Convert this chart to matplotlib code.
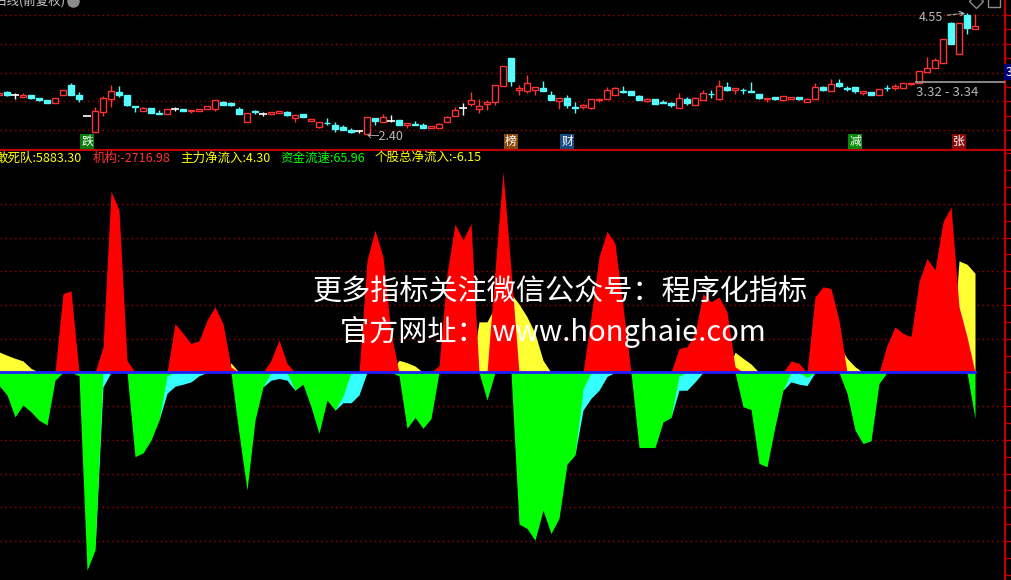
import numpy as np
import matplotlib
matplotlib.use('Agg')
import matplotlib.pyplot as plt
from matplotlib.patches import Rectangle
from matplotlib.lines import Line2D
import matplotlib.transforms as mtransforms

plt.rcParams['font.family'] = ['Noto Sans CJK SC', 'DejaVu Sans']

# ---- daily candles (qfq) ----
opens = [3.08, 3.14, 3.09, 3.05, 3.09, 3.03, 3.00, 2.95, 3.08, 3.27,
         3.09, 2.71, 2.43, 2.79, 3.02, 3.14, 3.08, 2.89, 2.81, 2.86,
         2.77, 2.74, 2.84, 2.83, 2.80, 2.80, 2.83, 2.83, 2.96, 2.94,
         2.84, 2.60, 2.80, 2.75, 2.75, 2.76, 2.79, 2.68, 2.74, 2.63,
         2.52, 2.59, 2.55, 2.52, 2.47, 2.45, 2.40, 2.68, 2.61, 2.63,
         2.65, 2.55, 2.57, 2.55, 2.49, 2.50, 2.61, 2.72, 2.85, 2.93,
         2.83, 2.93, 2.96, 3.25, 3.74, 3.18, 3.15, 3.18, 3.21, 3.09,
         2.98, 3.03, 2.87, 2.87, 2.86, 2.99, 3.01, 3.09, 3.15, 3.15,
         3.07, 2.98, 3.02, 2.96, 2.94, 2.86, 3.01, 2.90, 3.00, 3.11,
         3.02, 3.23, 3.17, 3.18, 3.15, 3.11, 3.02, 3.05, 2.99, 3.02,
         3.06, 2.96, 3.01, 3.23, 3.15, 3.30, 3.21, 3.23, 3.13, 3.14,
         3.08, 3.22, 3.22, 3.22, 3.29, 3.31, 3.49, 3.56, 3.65, 4.37,
         3.81, 4.51, 4.26]
highs = [3.12, 3.16, 3.13, 3.12, 3.09, 3.03, 3.00, 3.03, 3.18, 3.30,
         3.14, 2.71, 2.87, 3.07, 3.27, 3.25, 3.08, 2.89, 2.87, 2.86,
         2.82, 2.83, 2.87, 2.83, 2.82, 2.84, 2.89, 2.99, 2.98, 2.97,
         2.87, 2.76, 2.82, 2.79, 2.78, 2.80, 2.81, 2.73, 2.75, 2.66,
         2.61, 2.68, 2.61, 2.55, 2.49, 2.47, 2.69, 2.68, 2.75, 2.73,
         2.65, 2.59, 2.62, 2.58, 2.53, 2.59, 2.72, 2.88, 2.95, 3.14,
         3.01, 3.00, 3.27, 3.61, 3.74, 3.27, 3.44, 3.23, 3.33, 3.15,
         3.03, 3.09, 2.96, 2.93, 3.01, 3.04, 3.23, 3.23, 3.25, 3.15,
         3.09, 3.04, 3.02, 2.99, 2.96, 3.12, 3.05, 3.05, 3.17, 3.17,
         3.36, 3.32, 3.21, 3.21, 3.32, 3.11, 3.03, 3.05, 3.07, 3.06,
         3.06, 3.04, 3.30, 3.25, 3.37, 3.37, 3.25, 3.23, 3.16, 3.14,
         3.19, 3.26, 3.28, 3.30, 3.30, 3.51, 3.76, 3.75, 4.08, 4.39,
         4.38, 4.55, 4.53]
lows = [3.08, 3.07, 3.02, 3.05, 3.02, 2.98, 2.95, 2.95, 3.08, 3.08,
        2.97, 2.71, 2.43, 2.71, 2.88, 3.06, 2.89, 2.78, 2.81, 2.77,
        2.75, 2.74, 2.81, 2.80, 2.76, 2.80, 2.83, 2.80, 2.91, 2.89,
        2.75, 2.60, 2.75, 2.72, 2.75, 2.76, 2.71, 2.61, 2.70, 2.63,
        2.49, 2.55, 2.42, 2.46, 2.41, 2.41, 2.40, 2.55, 2.61, 2.61,
        2.56, 2.50, 2.56, 2.50, 2.49, 2.50, 2.61, 2.72, 2.73, 2.89,
        2.76, 2.82, 2.91, 3.24, 3.25, 3.09, 3.13, 3.09, 3.15, 3.00,
        2.84, 2.86, 2.77, 2.83, 2.83, 2.96, 3.01, 3.09, 3.13, 3.09,
        2.99, 2.96, 2.93, 2.94, 2.87, 2.86, 2.91, 2.90, 3.00, 3.04,
        3.00, 3.16, 3.11, 3.11, 3.14, 3.02, 2.97, 3.00, 2.99, 3.02,
        3.00, 2.96, 3.01, 3.15, 3.15, 3.23, 3.15, 3.13, 3.08, 3.09,
        3.08, 3.16, 3.18, 3.22, 3.26, 3.31, 3.49, 3.56, 3.65, 3.99,
        3.81, 4.18, 4.26]
closes = [3.12, 3.09, 3.09, 3.09, 3.04, 3.00, 2.95, 3.03, 3.18, 3.09,
          3.02, 2.71, 2.80, 3.03, 3.16, 3.09, 2.91, 2.88, 2.86, 2.77,
          2.75, 2.83, 2.84, 2.80, 2.82, 2.84, 2.89, 2.99, 2.91, 2.91,
          2.75, 2.76, 2.79, 2.75, 2.78, 2.80, 2.73, 2.73, 2.70, 2.66,
          2.61, 2.58, 2.48, 2.46, 2.43, 2.45, 2.69, 2.62, 2.70, 2.63,
          2.56, 2.59, 2.56, 2.50, 2.53, 2.57, 2.70, 2.82, 2.85, 2.99,
          2.89, 2.97, 3.27, 3.61, 3.33, 3.21, 3.30, 3.23, 3.15, 3.00,
          3.03, 2.91, 2.86, 2.91, 3.01, 3.02, 3.17, 3.21, 3.14, 3.09,
          3.00, 3.02, 2.93, 2.95, 2.90, 3.03, 2.95, 3.03, 3.12, 3.10,
          3.24, 3.18, 3.21, 3.17, 3.14, 3.04, 3.03, 3.02, 3.07, 3.06,
          3.02, 3.02, 3.23, 3.18, 3.28, 3.25, 3.20, 3.15, 3.16, 3.09,
          3.19, 3.21, 3.25, 3.30, 3.30, 3.51, 3.56, 3.71, 4.08, 3.99,
          4.38, 4.29, 4.32]

# signal tags under the candles (bar index, text)
sig_idx = [11, 64, 71, 107, 120]
sig_txt = ['跌', '榜', '财', '减', '张']

range_low, range_high = 3.32, 3.34

# ---- fund flow indicator ----
flow_red = [0, 0, 0, 0, 0, 0, 0, 0, 23.4, 24.2,
            0, 0, 0, 7.6, 53.8, 48.2, 3.6, 0, 0, 0,
            0, 0, 14.5, 11.6, 8.6, 9.4, 15.5, 19.5, 14.5, 1.6,
            0, 0, 0, 0, 3.6, 9.6, 2.7, 0, 0, 0,
            0, 0, 0, 0, 0, 0, 33.3, 42.2, 34.3, 11.6,
            0, 0, 0, 0, 0, 2.0, 29.4, 44.0, 39.3, 44.2,
            0, 0, 30.4, 59.5, 30.4, 0, 0, 0, 0, 0,
            0, 0, 0, 0, 16.5, 34.3, 41.9, 38.3, 19.5, 0,
            0, 0, 0, 0, 0, 7.1, 7.6, 11.6, 23.4, 20.9,
            22.4, 18.0, 1.7, 0, 0, 0, 0, 0, 0, 3.4,
            2.7, 0, 22.4, 25.4, 24.9, 15.5, 0, 0, 0, 0,
            0, 8.1, 13.5, 11.6, 10.6, 26.9, 33.8, 30.4, 44.7, 49.1,
            19.5, 10.6, 0]
flow_yellow = [6.1, 5.1, 4.2, 3.4, 1.2, 0, 0, 0, 0, 0,
               0, 0, 0, 0, 0, 0, 0, 0, 0, 0,
               0, 0, 0, 0, 0, 0, 0, 0, 0, 2.8,
               0, 0, 0, 0, 0, 0, 0, 0, 0, 0,
               0, 0, 0, 0, 0, 0, 0, 0, 0, 0,
               3.6, 2.9, 1.9, 0, 0, 0, 0, 0, 0, 0,
               15.0, 15.0, 19.5, 21.0, 23.4, 20.3, 16.5, 11.6, 3.6, 0,
               0, 0, 0, 0, 0, 0, 0, 0, 0, 0,
               0, 0, 0, 0, 0, 0, 0, 0, 0, 0,
               0, 0, 6.0, 4.2, 2.5, 0, 0, 0, 0, 0,
               0, 0, 0, 0, 0, 8.0, 4.2, 1.7, 0, 0,
               0, 0, 0, 0, 0, 0, 0, 0, 0, 0,
               33.1, 32.1, 29.4]
flow_green = [-3.8, -6.7, -13.2, -9.7, -11.7, -14.2, -15.6, -2.3, 0, 0,
              -1.0, -58.7, -52.7, 0, 0, 0, 0, -25.0, -23.9, -20.1,
              -14.2, -1.0, 0, 0, 0, 0, 0, 0, 0, 0,
              -18.1, -34.9, -14.2, -4.3, 0, 0, 0, -5.3, -3.5, -10.2,
              -18.1, -8.2, -11.2, -7.0, 0, 0, 0, 0, 0, 0,
              -1.0, -16.6, -13.4, -16.6, -13.7, 0, 0, 0, 0, 0,
              0, -8.2, 0, 0, 0, -45.0, -46.3, -49.8, -40.9, -47.8,
              -43.3, -27.2, -24.5, -5.0, 0, 0, 0, 0, 0, 0,
              -22.3, -22.3, -22.3, -14.7, -13.4, -1.0, 0, 0, 0, 0,
              0, 0, 0, -10.2, -11.0, -27.0, -28.0, -16.1, -5.3, 0,
              0, -1.5, 0, 0, 0, 0, -6.2, -17.1, -21.1, -20.3,
              -3.3, 0, 0, 0, 0, 0, 0, 0, 0, 0,
              0, 0, -13.7]
flow_cyan = [0, 0, 0, 0, 0, 0, 0, 0, 0, 0,
             0, 0, -52.7, -4.3, 0, 0, 0, 0, 0, 0,
             -14.2, -6.2, -4.1, -3.5, -2.8, -1.0, 0, 0, 0, 0,
             0, 0, 0, -4.3, -2.3, -1.8, -2.3, -5.3, 0, 0,
             0, 0, -11.2, -9.0, -9.0, -6.7, 0, 0, 0, 0,
             0, 0, 0, 0, 0, 0, 0, 0, 0, 0,
             0, 0, 0, 0, 0, 0, 0, 0, 0, 0,
             0, 0, -24.5, -11.2, -7.7, -5.3, -1.2, 0, 0, 0,
             0, 0, 0, 0, -13.4, -5.3, -5.3, -2.8, 0, 0,
             0, 0, 0, 0, 0, 0, 0, 0, -5.3, -2.8,
             -3.5, -3.9, 0, 0, 0, 0, 0, 0, 0, 0,
             0, 0, 0, 0, 0, 0, 0, 0, 0, 0,
             0, 0, 0]

legend_names = ['敢死队', '机构', '主力净流入', '资金流速', '个股总净流入']
legend_vals = [5883.30, -2716.98, 4.30, 65.96, -6.15]


W, H = 1012, 580
UP = '#FF3232'
DOWN = '#54FCFC'
AXRED = '#C00000'
GRIDRED = '#A00000'

fig = plt.figure(figsize=(W / 100, H / 100), dpi=100, facecolor='black')

def px_axes(x0, y0, x1, y1):
    return fig.add_axes([x0 / W, 1 - y1 / H, (x1 - x0) / W, (y1 - y0) / H])

def style_axes(ax):
    ax.set_facecolor('black')
    for s in ['left', 'top', 'bottom']:
        ax.spines[s].set_visible(False)
    ax.spines['right'].set_color(AXRED)
    ax.spines['right'].set_linewidth(1.5)
    ax.yaxis.tick_right()
    ax.tick_params(axis='y', direction='out', length=4, width=1,
                   color=AXRED, labelright=False)
    ax.set_xticks([])
    ax.set_xlim(0.125, 125.75)

n = len(opens)
x = np.arange(n)

## price panel
ax1 = px_axes(0, 0, 1005, 150)
style_axes(ax1)
ax1.set_ylim(2.106, 4.782)
grid_lv = np.linspace(2.463, 4.514, 5)
ax1.set_yticks(np.linspace(2.463, 4.514, 9))
for g in grid_lv:
    ax1.axhline(g, color=GRIDRED, lw=1, ls=(0, (1, 2.5)), zorder=0)

for i in range(n):
    o, h, l, c = opens[i], highs[i], lows[i], closes[i]
    if c > o:
        col, face = UP, 'black'
    elif c < o:
        col, face = DOWN, DOWN
    else:
        col, face = 'white', 'white'
    ax1.vlines(i, l, h, color=col, lw=1, zorder=2)
    if c != o:
        ax1.add_patch(Rectangle((i - 0.4, min(o, c)), 0.8, abs(c - o),
                                facecolor=face, edgecolor=col, lw=1, zorder=3))
    else:
        ax1.hlines(o, i - 0.45, i + 0.45, color=col, lw=1.2, zorder=3)

i_lo = int(np.argmin(lows))
i_hi = int(np.argmax(highs))
ax1.annotate('←%.2f' % lows[i_lo], xy=(i_lo, lows[i_lo]), xytext=(0, -3),
             textcoords='offset pixels', ha='left', va='center',
             color='#B8B8B8', fontsize=9, zorder=5)
ax1.annotate('%.2f' % highs[i_hi], xy=(i_hi, highs[i_hi]), xytext=(-24, -4),
             textcoords='offset pixels', ha='right', va='center',
             color='#B8B8B8', fontsize=9, zorder=5,
             arrowprops=dict(arrowstyle='->', color='#B8B8B8', lw=0.8,
                             ls='--', shrinkA=1, shrinkB=1))

ax1.hlines(range_low, 114.5, 125.75, color='#A0A0A0', lw=1.2, zorder=4)
ax1.annotate('%.2f - %.2f' % (range_low, range_high), xy=(114.5, range_low),
             xytext=(1, -4), textcoords='offset pixels', ha='left', va='top',
             color='#B8B8B8', fontsize=9.5, zorder=5)

sig_bg = {'跌': '#0A7A0A', '榜': '#8A4A0E', '财': '#1A4A80',
          '减': '#0A8A0A', '张': '#8A0A0A'}
blend = mtransforms.blended_transform_factory(ax1.transData, ax1.transAxes)
for i, t in zip(sig_idx, sig_txt):
    ax1.text(i, 0.055, t, transform=blend, ha='center', va='center',
             color='white', fontsize=8.5,
             bbox=dict(boxstyle='square,pad=0.1', fc=sig_bg[t], ec='none'))

# header stuff
fig.text(-5 / W, 1 - 0.5 / H, '日线(前复权)', ha='left', va='center',
         color='#C8C8C8', fontsize=9)
ax1.plot(73 / 1005, 1 - 0.5 / 150, marker='o', ms=8, color='#8C8C8C',
         transform=ax1.transAxes, clip_on=False)
ax1.plot(976 / 1005, 1 - 0.5 / 150, marker='D', ms=7, mfc='none',
         mec='#8C8C8C', transform=ax1.transAxes, clip_on=False)
ax1.plot(994 / 1005, 1 - 0.5 / 150, marker='s', ms=8, mfc='none',
         mec='#8C8C8C', transform=ax1.transAxes, clip_on=False)
fig.text(1006 / W, 1 - 72 / H, '3', ha='left', va='center', color='white',
         fontsize=9, bbox=dict(boxstyle='square,pad=0.15', fc='#00007A',
                               ec='none'))

fig.add_artist(Line2D([0, 1], [1 - 150 / H, 1 - 150 / H], color=AXRED,
                      lw=1.5, transform=fig.transFigure))

## indicator panel
ax2 = px_axes(0, 150, 1005, 580)
style_axes(ax2)
ax2.set_ylim(-61.6, 66.0)
ax2.set_yticks(np.arange(-60, 66, 5))
for g in [-50, -40, -30, -20, -10, 10, 20, 30, 40, 50]:
    ax2.axhline(g, color=GRIDRED, lw=1, ls=(0, (1, 2.5)), zorder=0)

ax2.fill_between(x, 0, flow_yellow, color='#FFFF33', lw=0, zorder=2)
ax2.fill_between(x, 0, flow_red, color='#FF0000', lw=0, zorder=3)
ax2.fill_between(x, flow_cyan, 0, color='#33FFFF', lw=0, zorder=2)
ax2.fill_between(x, flow_green, 0, color='#00FF00', lw=0, zorder=3)
ax2.plot(x, np.zeros(n), color='#1E1EFF', lw=2, zorder=4)

# legend line
renderer = fig.canvas.get_renderer()
cols = ['#FFFF00', UP, '#FFFF00', '#00FF00', '#FFFF00']
xp = -4
for name, val, c in zip(legend_names, legend_vals, cols):
    t = fig.text(xp / W, 1 - 158 / H, '%s:%.2f' % (name, val), ha='left',
                 va='center', color=c, fontsize=9)
    bb = t.get_window_extent(renderer)
    xp = bb.x1 + 10

# watermark
fig.text(560 / W, 1 - 293 / H, '更多指标关注微信公众号：程序化指标',
         ha='center', va='center', color='white', fontsize=21, zorder=10)
fig.text(553 / W, 1 - 332 / H, '官方网址： www.honghaie.com',
         ha='center', va='center', color='white', fontsize=21, zorder=10)

fig.savefig('out.png', dpi=100, facecolor='black')
